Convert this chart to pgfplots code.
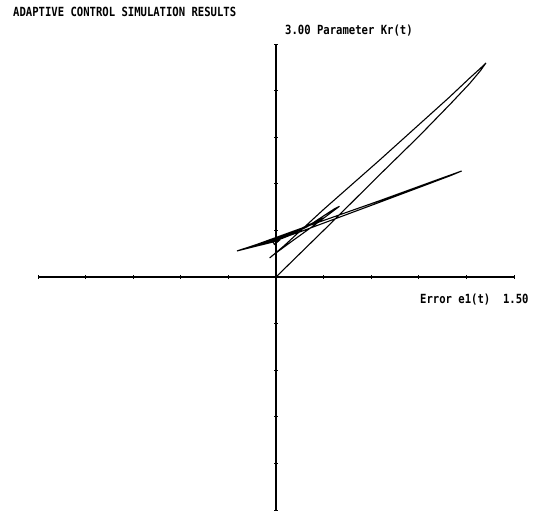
\documentclass[border=0pt]{standalone}
\usepackage{fontspec}
\usepackage{pgfplots}
\pgfplotsset{compat=1.18}
\newfontfamily\plotfont{DejaVu Sans Mono}
\newcommand\lbl[1]{\scalebox{0.84}[1]{\plotfont\bfseries\fontsize{12.6}{13}\selectfont #1}}

\begin{document}
\begin{tikzpicture}
\path[use as bounding box] (0,0) rectangle (538pt,514pt);
\begin{axis}[
  at={(38pt,4pt)}, anchor=south west,
  scale only axis, width=476pt, height=466pt,
  xmin=-1.5, xmax=1.5, ymin=-3, ymax=3,
  axis lines=middle,
  axis line style={-, line width=1.1pt, black},
  xtick={-1.5,-1.2,-0.9,-0.6,-0.3,0.3,0.6,0.9,1.2,1.5},
  ytick={-3,-2.4,-1.8,-1.2,-0.6,0.6,1.2,1.8,2.4,3},
  xticklabels={}, yticklabels={},
  tick align=center, major tick length=4pt,
  tick style={line width=0.9pt, black},
  clip=false,
]
% phase-plane trajectory: error e1(t) against adaptive gain Kr(t)
\addplot[black, line width=1.1pt] coordinates {
  (0,0) (0.33,0.66) (0.65,1.31) (0.90,1.81) (1.10,2.23) (1.22,2.49) (1.29,2.66) (1.323,2.756)
  (1.29,2.69) (1.22,2.56) (1.09,2.31) (0.65,1.50) (0.30,0.87) (0.05,0.40)
  (-0.04,0.245) (-0.02,0.28) (0.10,0.46) (0.25,0.68) (0.40,0.91)
  (0.37,0.88) (0.22,0.68) (0.08,0.53) (-0.02,0.45)
  (-0.246,0.335)
  (-0.12,0.42) (0.15,0.62) (0.65,0.98) (1.00,1.24) (1.17,1.365)
  (1.10,1.305) (0.65,0.96) (0.15,0.58) (0.02,0.49)
  (-0.16,0.38) (-0.05,0.46) (0.10,0.57) (0.30,0.76) (0.18,0.63)
  (0.04,0.51) (-0.02,0.46) (-0.01,0.42) (0.02,0.47) (0.00,0.48)
};
\end{axis}
\node[anchor=base west, inner sep=0pt] at (13pt,497pt) {\lbl{ADAPTIVE CONTROL SIMULATION RESULTS}};
\node[anchor=base west, inner sep=0pt] at (285pt,479pt) {\lbl{3.00 Parameter Kr(t)}};
\node[anchor=base west, inner sep=0pt] at (420pt,210pt) {\lbl{Error e1(t)~~1.50}};
\end{tikzpicture}
\end{document}
